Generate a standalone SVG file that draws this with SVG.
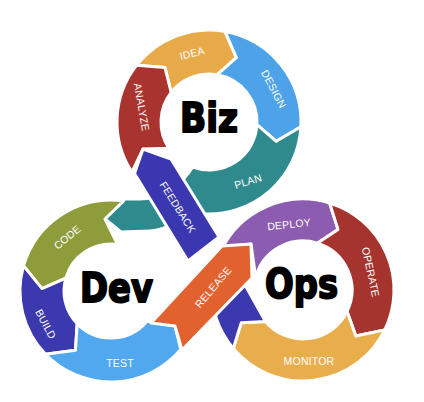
<svg xmlns="http://www.w3.org/2000/svg" width="424" height="402" viewBox="0 0 424 402">
<style>
.seg{stroke:#fff;stroke-width:3;stroke-linejoin:round}
.lbl{font-family:"Liberation Sans","Open Sans",sans-serif;font-size:10.5px;fill:#fff;text-anchor:middle;dominant-baseline:central;letter-spacing:0.2px}
.big{font-family:"DejaVu Sans",sans-serif;font-weight:bold;font-size:40px;fill:#000;stroke:#000;stroke-width:2;stroke-linejoin:round;text-anchor:middle}
</style>
<rect width="424" height="402" fill="#fff"/>
<g id="biz">
<path id="idea" class="seg" fill="#E8AA48" d="M136.50,65.36 A92 92 0 0 1 224.97,31.40 L236.35,57.56 L217.33,74.73 A48 48 0 0 0 171.18,92.45 L164.95,67.60 Z"/>
<path id="design" class="seg" fill="#4EA2E8" d="M224.97,31.40 A92 92 0 0 1 300.87,126.81 L276.29,141.29 L256.93,124.51 A48 48 0 0 0 217.33,74.73 L236.35,57.56 Z"/>
<path id="analyze" class="seg" fill="#A9332F" d="M131.84,172.10 A92 92 0 0 1 136.50,65.36 L164.95,67.60 L171.18,92.45 A48 48 0 0 0 168.74,148.14 L143,149 Z"/>
<path id="plan" class="seg" fill="#2F8A8E" d="M300.87,126.81 A92 92 0 0 1 200.98,213.65 C185,216 170,230 150,231 L121,232 L105,219 L121,199 L140,199 C165,199 185,180 192.58,167.11 A48 48 0 0 0 256.93,124.51 L276.29,141.29 Z"/>
<text class="big" x="209" y="132" textLength="58" lengthAdjust="spacingAndGlyphs">Biz</text>
</g>
<g id="dev">
<path id="code" class="seg" fill="#8E9C3B" d="M123.67,200.88 A91 91 0 0 0 23.52,265.92 L42.04,288.59 L65.82,278.05 A47 47 0 0 1 117.54,244.46 L105,219 Z"/>
<path id="build" class="seg" fill="#3B39AD" d="M23.52,265.92 A91 91 0 0 0 45.54,354.22 L75.46,350.15 L77.19,323.65 A47 47 0 0 1 65.82,278.05 L42.04,288.59 Z"/>
<path id="test" class="seg" fill="#52A8EE" d="M45.54,354.22 A91 91 0 0 0 180.71,349.49 L175,326 L147.0,321.21 A47 47 0 0 1 77.19,323.65 L75.46,350.15 Z"/>
<text class="big" x="116.5" y="302" textLength="73" lengthAdjust="spacingAndGlyphs">Dev</text>
</g>
<g id="feedback">
<path class="seg" fill="#3A37B0" d="M188,261 L134.5,173.5 L143,149 L171,159 L219,237 Z"/>
</g>
<g id="ops">
<path id="deploy" class="seg" fill="#8B5CAF" d="M220.53,251.54 A91 91 0 0 1 329.61,202.98 L338.0,229.38 L317.33,243.14 A49 49 0 0 0 255.67,277.32 L251,244 Z"/>
<path id="operate" class="seg" fill="#A5342F" d="M329.61,202.98 A91 91 0 0 1 384.79,329.89 L355.83,335.93 L347.04,311.48 A49 49 0 0 0 317.33,243.14 L338.0,229.38 Z"/>
<path id="monitor" class="seg" fill="#E8AE4B" d="M384.79,329.89 A91 91 0 0 1 233.29,348.49 L241.20,322.87 L265.47,321.50 A49 49 0 0 0 347.04,311.48 L355.83,335.93 Z"/>
<path id="loop" class="seg" fill="#3B39AD" d="M233.29,348.49 A91 91 0 0 1 212.12,285.24 L244,283 L265.47,321.50 L241.20,322.87 Z"/>
<text class="big" x="301.5" y="298" textLength="73" lengthAdjust="spacingAndGlyphs">Ops</text>
</g>
<g id="release">
<path class="seg" fill="#E2622F" d="M151,323 L222,246 L251,244 L252,278 L182,350 L175,326 Z"/>
</g>
<g id="labels">
<text class="lbl" transform="translate(192,53) rotate(-14)">IDEA</text>
<text class="lbl" transform="translate(274,89) rotate(62)">DESIGN</text>
<text class="lbl" transform="translate(248,181) rotate(-17)">PLAN</text>
<text class="lbl" transform="translate(142,107) rotate(80)">ANALYZE</text>
<text class="lbl" transform="translate(178,207) rotate(58)">FEEDBACK</text>
<text class="lbl" transform="translate(67,237) rotate(-40)">CODE</text>
<text class="lbl" transform="translate(46,324) rotate(62)">BUILD</text>
<text class="lbl" transform="translate(120,363)">TEST</text>
<text class="lbl" transform="translate(213,287) rotate(-50)">RELEASE</text>
<text class="lbl" transform="translate(289,224) rotate(-6)">DEPLOY</text>
<text class="lbl" transform="translate(371,272) rotate(78)">OPERATE</text>
<text class="lbl" transform="translate(309,361)">MONITOR</text>
</g>
</svg>
